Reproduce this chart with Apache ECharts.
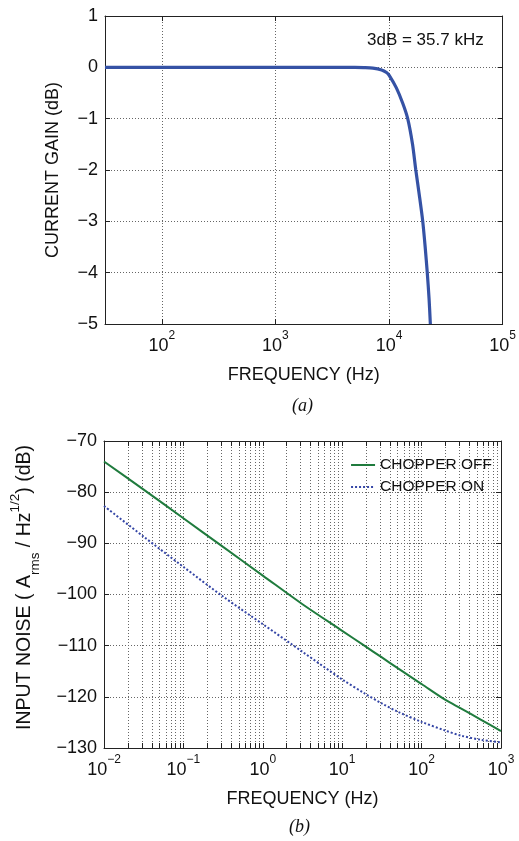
<!DOCTYPE html>
<html>
<head>
<meta charset="utf-8">
<script src="https://cdn.jsdelivr.net/npm/echarts@6/dist/echarts.min.js"></script>
<style>
html,body{margin:0;padding:0;background:#fff}
#chart{width:519px;height:841px}
</style>
</head>
<body>
<div id="chart"></div>
<script>
// (a) current gain vs frequency
const gainFreq = [31.6, 100, 1000, 3000, 5000, 6000, 7200, 8600, 9500, 10000, 11600, 13200, 14600, 16100, 17200, 18500, 19800, 20800, 21700, 22500, 23100]
const gainDb = [0, 0, 0, 0, 0, -0.005, -0.015, -0.05, -0.1, -0.15, -0.4, -0.7, -1.0, -1.5, -2.0, -2.5, -3.0, -3.5, -4.0, -4.5, -5.0]
const gainDecades = [2, 3, 4, 5]

// (b) input noise vs frequency
const noiseFreq = [0.01, 0.0316, 0.1, 0.316, 1, 3.16, 10, 19, 31.6, 50, 100, 200, 316, 562, 1000]
const noiseOff = [-74, -79.5, -85.1, -90.7, -96.3, -101.9, -107.1, -110.0, -112.3, -114.4, -117.5, -120.6, -122.3, -124.5, -126.7]
const noiseOn = [-82.7, -88.7, -94.6, -100.4, -105.8, -111.2, -116.6, -119.3, -121.3, -122.9, -124.9, -126.6, -127.6, -128.4, -128.9]
const noiseDecades = [-2, -1, 0, 1, 2, 3]

// minor log grid positions for (b)
let noiseGrid = []
noiseDecades.forEach(d => {
  noiseGrid.push(d)
  if (d < 3) for (let k = 2; k <= 9; k++) noiseGrid.push(Math.log10(k) + d)
})

const font = 'Liberation Sans'
const ink = '#111'
const frame = { show: true, onZero: false, lineStyle: { color: '#222' } }
const gridLine = { show: true, lineStyle: { color: '#666', width: 1, type: [1, 2] } }
const minus = v => String(v).replace('-', '\u2212')
const powRich = {
  b: { fontSize: 18, fontFamily: font, color: ink, padding: [7, 0, 0, 0], verticalAlign: 'bottom' },
  s: { fontSize: 12, fontFamily: font, color: ink, verticalAlign: 'top' }
}
const powLabel = v => '{b|10}{s|' + minus(Math.round(v)) + '}'

function xAxes(gi, min, max, labels, ticks, name) {
  return [{
    gridIndex: gi, type: 'value', min: min, max: max, position: 'bottom',
    axisLine: frame,
    axisTick: { show: true, inside: true, length: 5, customValues: ticks, lineStyle: { color: '#222' } },
    axisLabel: { customValues: labels, formatter: powLabel, rich: powRich, margin: 6 },
    splitLine: gridLine,
    name: name, nameLocation: 'middle', nameGap: 42,
    nameTextStyle: { fontSize: 18, fontFamily: font, color: ink }
  }, {
    gridIndex: gi, type: 'value', min: min, max: max, position: 'top',
    axisLine: frame,
    axisTick: { show: true, inside: true, length: 5, customValues: ticks, lineStyle: { color: '#222' } },
    axisLabel: { show: false }, splitLine: { show: false }
  }]
}

function yAxes(gi, min, max, step, name, nameGap, nameStyle) {
  return [{
    gridIndex: gi, type: 'value', min: min, max: max, interval: step, position: 'left',
    axisLine: frame,
    axisTick: { show: true, inside: true, length: 5, lineStyle: { color: '#222' } },
    axisLabel: { formatter: minus, fontSize: 18, fontFamily: font, color: ink, margin: 7 },
    splitLine: gridLine,
    name: name, nameLocation: 'middle', nameGap: nameGap,
    nameTextStyle: Object.assign({ fontSize: 18, fontFamily: font, color: ink }, nameStyle)
  }, {
    gridIndex: gi, type: 'value', min: min, max: max, interval: step, position: 'right',
    axisLine: frame,
    axisTick: { show: true, inside: true, length: 5, lineStyle: { color: '#222' } },
    axisLabel: { show: false }, splitLine: { show: false }
  }]
}

const noiseName = {
  padding: [0, 0, 0, 14],
  rich: {
    n: { fontSize: 19.5, fontFamily: font, color: ink, padding: [7, 0, 7, 0] },
    sub: { fontSize: 13.5, fontFamily: font, color: ink, verticalAlign: 'bottom' },
    sup: { fontSize: 13.5, fontFamily: font, color: ink, verticalAlign: 'top' }
  }
}

const option = {
  animation: false,
  backgroundColor: '#fff',
  grid: [
    { left: 105, top: 16, width: 398, height: 308 },
    { left: 101, top: 441, width: 400, height: 307 }
  ],
  xAxis: [
    ...xAxes(0, 1.5, 5, gainDecades, gainDecades, 'FREQUENCY (Hz)'),
    ...xAxes(1, -2, 3, noiseDecades, noiseGrid, 'FREQUENCY (Hz)')
  ],
  yAxis: [
    ...yAxes(0, -5, 1, 1, 'CURRENT GAIN (dB)', 43, {}),
    ...yAxes(1, -130, -70, 10, '{n|INPUT NOISE ( A}{sub|rms}{n| / Hz}{sup|1/2}{n|) (dB)}', 62, noiseName)
  ],
  legend: {
    data: ['CHOPPER OFF', 'CHOPPER ON'],
    orient: 'vertical', right: 22, top: 452,
    itemWidth: 24, itemHeight: 10, itemGap: 6,
    itemStyle: { opacity: 0 },
    textStyle: { fontSize: 15.5, fontFamily: font, color: ink }
  },
  graphic: [
    { type: 'text', left: 367, top: 32, style: { text: '3dB = 35.7 kHz', fontSize: 17, fontFamily: font, fill: ink } },
    { type: 'text', left: 292, top: 397, style: { text: '(a)', fontSize: 18, fontFamily: 'Liberation Serif', fontStyle: 'italic', fill: ink } },
    { type: 'text', left: 289, top: 818, style: { text: '(b)', fontSize: 18, fontFamily: 'Liberation Serif', fontStyle: 'italic', fill: ink } }
  ],
  series: [
    {
      type: 'line', xAxisIndex: 0, yAxisIndex: 0, symbol: 'none', smooth: 0.25,
      data: gainFreq.map((f, i) => [Math.log10(f), gainDb[i]]),
      lineStyle: { color: '#3552a5', width: 3.2 }, z: 5
    },
    {
      name: 'CHOPPER OFF', type: 'line', xAxisIndex: 2, yAxisIndex: 2, symbol: 'none', smooth: 0.3,
      data: noiseFreq.map((f, i) => [Math.log10(f), noiseOff[i]]),
      color: '#1f7b3d', lineStyle: { color: '#1f7b3d', width: 2 }, z: 5
    },
    {
      name: 'CHOPPER ON', type: 'line', xAxisIndex: 2, yAxisIndex: 2, symbol: 'none', smooth: 0.3,
      data: noiseFreq.map((f, i) => [Math.log10(f), noiseOn[i]]),
      color: '#3546a6', lineStyle: { color: '#3546a6', width: 2, type: [2, 2] }, z: 5
    }
  ]
}

let chart = echarts.init(document.getElementById('chart'))
chart.setOption(option)
</script>
</body>
</html>
